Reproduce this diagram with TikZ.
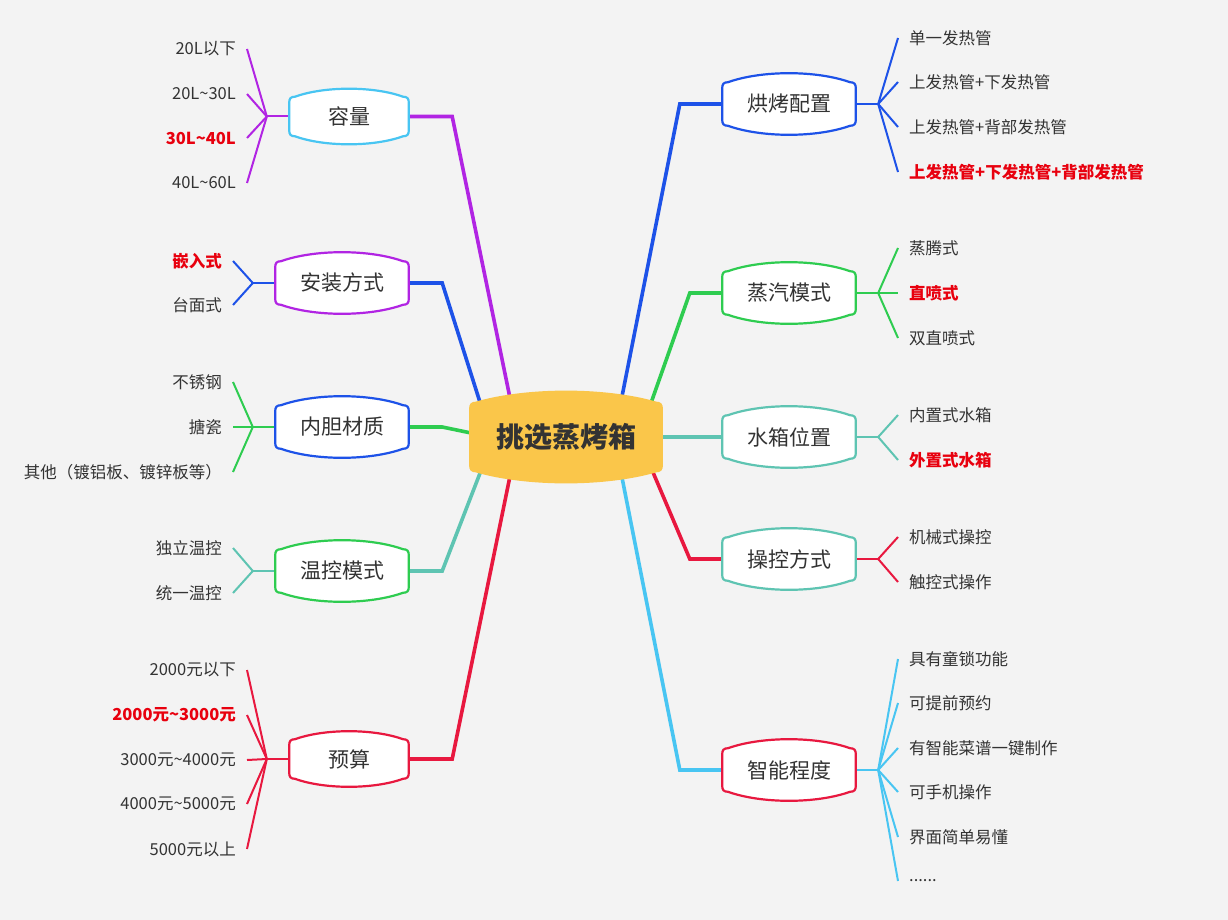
\documentclass[tikz,border=0pt]{standalone}
\usepackage{fontspec}
\setmainfont{Noto Sans CJK SC}
\usetikzlibrary{calc, backgrounds}
\definecolor{pagebg}{HTML}{F3F3F3}
\definecolor{textgray}{HTML}{333333}
\definecolor{hotred}{HTML}{E8000E}
\definecolor{mainyellow}{HTML}{FAC64A}
\definecolor{mmpurple}{HTML}{B124E3}
\definecolor{mmblue}{HTML}{1D52E8}
\definecolor{mmgreen}{HTML}{2ECC50}
\definecolor{mmteal}{HTML}{5EC4B2}
\definecolor{mmred}{HTML}{E8183F}
\definecolor{mmsky}{HTML}{48C5F2}
\newcommand{\tl}{\textasciitilde}
\newcommand{\sixdots}{......}

\begin{document}
\begin{tikzpicture}[
    x=1pt, y=-1pt, line cap=round, line join=round,
    barrel/.style n args={3}{path picture={
      \path[fill=#1, draw=#2, line width=2.2pt]
        let \p1=(path picture bounding box.south west),
            \p2=(path picture bounding box.north east) in
        (\x1+1.2pt, \y1+1.2pt+#3+6pt) -- (\x1+1.2pt, \y2-1.2pt-#3-6pt)
        .. controls (\x1+1.2pt, \y2-1.2pt-#3-2pt) and (\x1+2.7pt, \y2-1.2pt-#3) .. (\x1+7pt, \y2-1.2pt-#3)
        .. controls ({0.7*\x1+0.3*\x2}, {\y2-1.2pt+#3/3}) and ({0.3*\x1+0.7*\x2}, {\y2-1.2pt+#3/3}) .. (\x2-7pt, \y2-1.2pt-#3)
        .. controls (\x2-2.7pt, \y2-1.2pt-#3) and (\x2-1.2pt, \y2-1.2pt-#3-2pt) .. (\x2-1.2pt, \y2-1.2pt-#3-6pt)
        -- (\x2-1.2pt, \y1+1.2pt+#3+6pt)
        .. controls (\x2-1.2pt, \y1+1.2pt+#3+2pt) and (\x2-2.7pt, \y1+1.2pt+#3) .. (\x2-7pt, \y1+1.2pt+#3)
        .. controls ({0.3*\x1+0.7*\x2}, {\y1+1.2pt-#3/3}) and ({0.7*\x1+0.3*\x2}, {\y1+1.2pt-#3/3}) .. (\x1+7pt, \y1+1.2pt+#3)
        .. controls (\x1+2.7pt, \y1+1.2pt+#3) and (\x1+1.2pt, \y1+1.2pt+#3+2pt) .. cycle;
    }},
    mainnode/.style={minimum width=194pt, minimum height=93pt, inner sep=0pt,
      font=\fontsize{28}{32}\selectfont\bfseries, text=textgray, barrel={mainyellow}{mainyellow}{11pt}},
    topic/.style={minimum width=122pt, minimum height=58pt, inner sep=0pt,
      font=\fontsize{21}{24}\selectfont, text=textgray, barrel={white}{#1}{8pt}},
    topicwide/.style={topic=#1, minimum width=136pt, minimum height=64pt, barrel={white}{#1}{9pt}},
    leafnorm/.style={inner xsep=11pt, inner ysep=1pt, font=\fontsize{16.5}{18}\selectfont, text=textgray},
    leafhot/.style={leafnorm, font=\fontsize{16.5}{18}\selectfont\bfseries, text=hotred},
    link/.style={line width=3.6pt},
    twig/.style={line width=2pt}
  ]
    \useasboundingbox (0,0) rectangle (1228,920);

    % centre
    \node[mainnode] (main) at (566,437) {挑选蒸烤箱};

    % left branches
    \node[topic=mmsky] (rongliang) at (349,116.5) {容量};
    \node[topicwide=mmpurple] (anzhuang) at (342,283) {安装方式};
    \node[topicwide=mmblue] (neidan) at (342,427) {内胆材质};
    \node[topicwide=mmgreen] (wenkong) at (342,571) {温控模式};
    \node[topic=mmred] (yusuan) at (349,759) {预算};

    % right branches
    \node[topicwide=mmblue] (hongkao) at (789,104) {烘烤配置};
    \node[topicwide=mmgreen] (zhengqi) at (789,293) {蒸汽模式};
    \node[topicwide=mmteal] (shuixiang) at (789,437) {水箱位置};
    \node[topicwide=mmteal] (caokong) at (789,559) {操控方式};
    \node[topicwide=mmred] (zhineng) at (789,770) {智能程度};

    % leaves, left side
    \foreach \y/\t/\s [count=\i] in {49/20L以下/leafnorm, 94/20L\tl30L/leafnorm, 138/30L\tl40L/leafhot, 183/40L\tl60L/leafnorm}
      \node[\s, anchor=east] (rl\i) at (247,\y) {\t};
    \foreach \y/\t/\s [count=\i] in {261/嵌入式/leafhot, 305/台面式/leafnorm}
      \node[\s, anchor=east] (az\i) at (233,\y) {\t};
    \foreach \y/\t/\s [count=\i] in {382/不锈钢/leafnorm, 427/搪瓷/leafnorm, 472/其他（镀铝板、镀锌板等）/leafnorm}
      \node[\s, anchor=east] (nd\i) at (233,\y) {\t};
    \foreach \y/\t/\s [count=\i] in {548/独立温控/leafnorm, 593/统一温控/leafnorm}
      \node[\s, anchor=east] (wk\i) at (233,\y) {\t};
    \foreach \y/\t/\s [count=\i] in {670/2000元以下/leafnorm, 715/2000元\tl3000元/leafhot, 760/3000元\tl4000元/leafnorm, 804/4000元\tl5000元/leafnorm, 849/5000元以上/leafnorm}
      \node[\s, anchor=east] (ys\i) at (247,\y) {\t};

    % leaves, right side
    \foreach \y/\t/\s [count=\i] in {38/单一发热管/leafnorm, 82/上发热管+下发热管/leafnorm, 127/上发热管+背部发热管/leafnorm, 172/上发热管+下发热管+背部发热管/leafhot}
      \node[\s, anchor=west] (hk\i) at (898,\y) {\t};
    \foreach \y/\t/\s [count=\i] in {248/蒸腾式/leafnorm, 293/直喷式/leafhot, 338/双直喷式/leafnorm}
      \node[\s, anchor=west] (zq\i) at (898,\y) {\t};
    \foreach \y/\t/\s [count=\i] in {415/内置式水箱/leafnorm, 460/外置式水箱/leafhot}
      \node[\s, anchor=west] (sx\i) at (898,\y) {\t};
    \foreach \y/\t/\s [count=\i] in {537/机械式操控/leafnorm, 582/触控式操作/leafnorm}
      \node[\s, anchor=west] (ck\i) at (898,\y) {\t};
    \foreach \y/\t/\s [count=\i] in {659/具有童锁功能/leafnorm, 703/可提前预约/leafnorm, 748/有智能菜谱一键制作/leafnorm, 792/可手机操作/leafnorm, 837/界面简单易懂/leafnorm, 881/\sixdots/leafnorm}
      \node[\s, anchor=west] (zn\i) at (898,\y) {\t};

    \begin{pgfonlayer}{background}
      \fill[pagebg] (0,0) rectangle (1228,920);

      % links from the centre
      \draw[link, mmpurple] (rongliang.east) -- ++(42,0) -- ($(main.center)+(-48,0)$);
      \draw[link, mmblue] (anzhuang.east) -- ++(32,0) -- ($(main.center)+(-75,0)$);
      \draw[link, mmgreen] (neidan.east) -- ++(32,0) -- ($(main.center)+(-66,2)$);
      \draw[link, mmteal] (wenkong.east) -- ++(32,0) -- ($(main.center)+(-72,0)$);
      \draw[link, mmred] (yusuan.east) -- ++(42,0) -- ($(main.center)+(-48,0)$);
      \draw[link, mmblue] (hongkao.west) -- ++(-41,0) -- ($(main.center)+(48,0)$);
      \draw[link, mmgreen] (zhengqi.west) -- ++(-31,0) -- ($(main.center)+(73,0)$);
      \draw[link, mmteal] (shuixiang.west) -- ($(main.center)+(80,0)$);
      \draw[link, mmred] (caokong.west) -- ++(-31,0) -- ($(main.center)+(72,0)$);
      \draw[link, mmsky] (zhineng.west) -- ++(-41,0) -- ($(main.center)+(48,0)$);

      % twigs to the leaves
      \draw[twig, mmpurple] (rongliang.west) -- ++(-21,0) coordinate (frl);
      \foreach \i in {1,...,4} \draw[twig, mmpurple] (frl) -- (rl\i.east);
      \draw[twig, mmblue] (anzhuang.west) -- ++(-21,0) coordinate (faz);
      \foreach \i in {1,2} \draw[twig, mmblue] (faz) -- (az\i.east);
      \draw[twig, mmgreen] (neidan.west) -- ++(-21,0) coordinate (fnd);
      \foreach \i in {1,2,3} \draw[twig, mmgreen] (fnd) -- (nd\i.east);
      \draw[twig, mmteal] (wenkong.west) -- ++(-21,0) coordinate (fwk);
      \foreach \i in {1,2} \draw[twig, mmteal] (fwk) -- (wk\i.east);
      \draw[twig, mmred] (yusuan.west) -- ++(-21,0) coordinate (fys);
      \foreach \i in {1,...,5} \draw[twig, mmred] (fys) -- (ys\i.east);

      \draw[twig, mmblue] (hongkao.east) -- ++(21,0) coordinate (fhk);
      \foreach \i in {1,...,4} \draw[twig, mmblue] (fhk) -- (hk\i.west);
      \draw[twig, mmgreen] (zhengqi.east) -- ++(21,0) coordinate (fzq);
      \foreach \i in {1,2,3} \draw[twig, mmgreen] (fzq) -- (zq\i.west);
      \draw[twig, mmteal] (shuixiang.east) -- ++(21,0) coordinate (fsx);
      \foreach \i in {1,2} \draw[twig, mmteal] (fsx) -- (sx\i.west);
      \draw[twig, mmred] (caokong.east) -- ++(21,0) coordinate (fck);
      \foreach \i in {1,2} \draw[twig, mmred] (fck) -- (ck\i.west);
      \draw[twig, mmsky] (zhineng.east) -- ++(21,0) coordinate (fzn);
      \foreach \i in {1,...,6} \draw[twig, mmsky] (fzn) -- (zn\i.west);
    \end{pgfonlayer}
  \end{tikzpicture}
\end{document}
